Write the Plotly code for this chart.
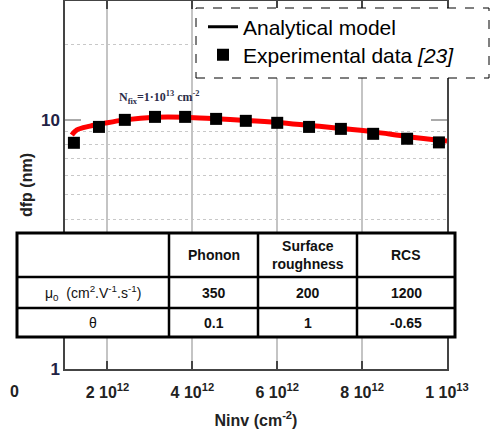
import plotly.graph_objects as go

# ---------------- data ----------------
ninv_exp = [1.21e12, 1.80e12, 2.41e12, 3.12e12, 3.83e12, 4.56e12, 5.26e12,
            6.00e12, 6.75e12, 7.50e12, 8.26e12, 9.06e12, 9.81e12]
dfp_exp = [8.09, 9.37, 10.0, 10.28, 10.28, 10.09, 9.91,
           9.73, 9.37, 9.20, 8.79, 8.40, 8.12]

ninv_model = [1.16e12, 1.28e12, 1.59e12, 1.94e12, 2.41e12, 3.12e12, 3.83e12, 4.56e12,
              5.26e12, 6.00e12, 6.75e12, 7.50e12, 8.26e12, 9.06e12, 1.0e13]
dfp_model = [8.70, 9.12, 9.44, 9.70, 10.0, 10.25, 10.25, 10.10,
             9.95, 9.76, 9.50, 9.24, 8.95, 8.58, 8.22]

x_tickvals = [2e12, 4e12, 6e12, 8e12, 1e13]
x_ticktext = ["2 10<sup>12</sup>", "4 10<sup>12</sup>", "6 10<sup>12</sup>",
              "8 10<sup>12</sup>", "1 10<sup>13</sup>"]
y_tickvals = [1, 10]
y_ticktext = ["1", "10"]
y_minor = [2, 3, 4, 5, 6, 7, 8, 9, 20]

table_header = ["", "Phonon", "Surface<br>roughness", "RCS"]
table_rowlabels = ["\u03bc<sub>0</sub>  (cm<sup>2</sup>.V<sup>-1</sup>.s<sup>-1</sup>)", "\u03b8"]
mu0_vals = [350, 200, 1200]
theta_vals = [0.1, 1, -0.65]

# ---------------- geometry helpers ----------------
W, H = 492, 430
ML, MR, MT, MB = 65, 45, 1, 61
PW, PH = W - ML - MR, H - MT - MB


def xp(px):
    return (px - ML) / PW


def yp(py):
    return (H - MB - py) / PH


fig = go.Figure()

# legend entry for the model line (black in legend)
fig.add_trace(go.Scatter(x=[None], y=[None], mode="lines",
                         line=dict(color="black", width=3),
                         name="Analytical model", legend="legend"))
# model curve
fig.add_trace(go.Scatter(x=ninv_model, y=dfp_model, mode="lines",
                         line=dict(color="#ff0000", width=5, shape="spline"),
                         showlegend=False, name="model"))
# experimental data
fig.add_trace(go.Scatter(x=ninv_exp, y=dfp_exp, mode="markers",
                         marker=dict(symbol="square", size=12, color="black"),
                         name="Experimental data <i>[23]</i>", legend="legend2"))

shapes = []
annotations = []

# legend dashed box
shapes.append(dict(type="rect", xref="paper", yref="paper",
                   x0=xp(196), x1=xp(489), y0=yp(78), y1=yp(8),
                   fillcolor="white", line=dict(color="black", width=1, dash="dash"),
                   layer="above"))

# table
tx = [17, 169, 258, 357, 455]
ty = [233, 277, 308, 337]
shapes.append(dict(type="rect", xref="paper", yref="paper",
                   x0=xp(tx[0]), x1=xp(tx[-1]), y0=yp(ty[-1]), y1=yp(ty[0]),
                   fillcolor="white", line=dict(color="black", width=3),
                   layer="above"))
for xv in tx[1:-1]:
    shapes.append(dict(type="line", xref="paper", yref="paper",
                       x0=xp(xv), x1=xp(xv), y0=yp(ty[-1]), y1=yp(ty[0]),
                       line=dict(color="black", width=2.5), layer="above"))
for yv in ty[1:-1]:
    shapes.append(dict(type="line", xref="paper", yref="paper",
                       x0=xp(tx[0]), x1=xp(tx[-1]), y0=yp(yv), y1=yp(yv),
                       line=dict(color="black", width=2.5), layer="above"))

cell_font = dict(family="Liberation Sans, Arial, sans-serif", size=14, color="#111")
col_centers = [(tx[i] + tx[i + 1]) / 2 for i in range(4)]
row_centers = [(ty[i] + ty[i + 1]) / 2 for i in range(3)]


def ann(px, py, text, font, **kw):
    d = dict(xref="paper", yref="paper", x=xp(px), y=yp(py), text=text,
             showarrow=False, xanchor="center", yanchor="middle", font=font)
    d.update(kw)
    return d


for i, txt in enumerate(table_header):
    if txt:
        annotations.append(ann(col_centers[i], row_centers[0], txt,
                               dict(cell_font, weight="bold"), align="center"))
for r, lab in enumerate(table_rowlabels):
    annotations.append(ann(col_centers[0], row_centers[r + 1], lab, cell_font))
for r, vals in enumerate([mu0_vals, theta_vals]):
    for c, v in enumerate(vals):
        annotations.append(ann(col_centers[c + 1], row_centers[r + 1], f"{v:g}",
                               dict(cell_font, weight="bold")))

# N_fix annotation
annotations.append(ann(159, 97, "N<sub>fix</sub>=1\u00b710<sup>13</sup> cm<sup>-2</sup>",
                       dict(family="Liberation Serif, Times New Roman, serif",
                            size=12, color="#2b2d4a", weight="bold")))
# stray "0" label
annotations.append(ann(14, 391, "0",
                       dict(family="Liberation Sans, Arial, sans-serif",
                            size=16, color="#222", weight="bold")))

leg_font = dict(family="Liberation Sans, Arial, sans-serif", size=21, color="black")
fig.update_layout(
    width=W, height=H,
    margin=dict(l=ML, r=MR, t=MT, b=MB, autoexpand=False),
    paper_bgcolor="white", plot_bgcolor="white",
    shapes=shapes, annotations=annotations,
    legend=dict(x=xp(203), y=yp(27), xanchor="left", yanchor="middle",
                bgcolor="rgba(0,0,0,0)", borderwidth=0, font=leg_font, itemwidth=30),
    legend2=dict(x=xp(203), y=yp(55), xanchor="left", yanchor="middle",
                 bgcolor="rgba(0,0,0,0)", borderwidth=0, font=leg_font, itemwidth=30),
    font=dict(family="Liberation Sans, Arial, sans-serif"),
)

fig.update_xaxes(
    automargin=False,
    range=[1e12, 1e13], tickvals=x_tickvals, ticktext=x_ticktext,
    showgrid=True, gridcolor="#c4c4c4", gridwidth=1.5,
    ticks="inside", ticklen=8, tickcolor="#444", tickwidth=1.5,
    showline=True, linecolor="#444", linewidth=1.5, mirror="ticks",
    zeroline=False, ticklabelstandoff=8,
    tickfont=dict(size=16, color="#222", weight="bold"),
    title=dict(text="Ninv (cm<sup>-2</sup>)", standoff=15,
               font=dict(size=16, color="#222", weight="bold")),
)
fig.update_yaxes(
    automargin=False,
    type="log", range=[0, 1.4771], tickvals=y_tickvals, ticktext=y_ticktext,
    showgrid=False,
    ticks="inside", ticklen=16, tickcolor="#aaa", tickwidth=1.5,
    showline=True, linecolor="#444", linewidth=1.5, mirror="ticks",
    zeroline=False,
    minor=dict(tickvals=y_minor, showgrid=True, gridcolor="#c8c8c8",
               griddash="dot", gridwidth=1, ticks=""),
    tickfont=dict(size=17, color="#222244", weight="bold"),
    title=dict(text="dfp (nm)", standoff=4,
               font=dict(size=16, color="#222", weight="bold")),
)

fig.write_html("out.html", config={"displayModeBar": False},
               post_script="document.body.style.margin='0';")
